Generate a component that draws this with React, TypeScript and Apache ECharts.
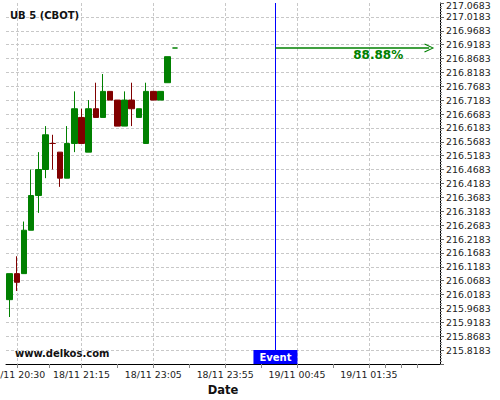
import React, { useEffect, useRef } from 'react';
import * as echarts from 'echarts';

// ---- data (UB futures quoted in 32nds) ----
const OPEN = [216.0, 216.09375, 216.09375, 216.25, 216.375, 216.46875, 216.5625, 216.53125, 216.4375, 216.5625, 216.65625, 216.53125, 216.6875, 216.65625, 216.75, 216.71875, 216.625, 216.71875, 216.65625, 216.5625, 216.75, 216.71875, 216.78125, 216.90625];
const CLOSE = [216.09375, 216.0625, 216.25, 216.375, 216.46875, 216.59375, 216.5625, 216.4375, 216.5625, 216.6875, 216.5625, 216.6875, 216.65625, 216.75, 216.71875, 216.625, 216.71875, 216.6875, 216.6875, 216.75, 216.71875, 216.75, 216.875, 216.90625];
const LOW = [215.9375, 216.03125, 216.09375, 216.25, 216.3125, 216.4375, 216.46875, 216.40625, 216.4375, 216.53125, 216.5625, 216.53125, 216.65625, 216.65625, 216.71875, 216.625, 216.625, 216.625, 216.65625, 216.5625, 216.71875, 216.71875, 216.78125, 216.90625];
const HIGH = [216.09375, 216.15625, 216.28125, 216.46875, 216.53125, 216.625, 216.59375, 216.53125, 216.625, 216.75, 216.6875, 216.71875, 216.78125, 216.8125, 216.75, 216.71875, 216.75, 216.78125, 216.6875, 216.78125, 216.75, 216.75, 216.875, 216.90625];

const X_LABEL_IDX = [1, 10, 20, 30, 40, 50];
const X_LABELS = ['18/11 20:30', '18/11 21:15', '18/11 23:05', '18/11 23:55', '19/11 00:45', '19/11 01:35'];
const X_TICK_IDX = [1, 5.5, 10, 15, 20, 25, 30, 35, 40, 45, 50, 52.25, 54.5, 56.75];
const X_MIN = -0.5;
const X_MAX = 59.9;

const Y_MIN = 215.7683;
const Y_MAX = 217.0683;
const Y_STEP = 0.05;

const EVENT_IDX = 37;
const ARROW_END_IDX = 58.4;
const PCT_IDX = 51.3;
const PCT_LABEL = '88.88%';
const EVENT_LABEL = 'Event';
const TITLE = 'UB 5 (CBOT)';
const SOURCE = 'www.delkos.com';
const X_NAME = 'Date';

const GREEN = '#008000';
const RED = '#800000';
const BLUE = '#0000ff';
const GRID = '#c8c8c8';
const FONT = 'DejaVu Sans';

export default function App() {
  const ref = useRef<HTMLDivElement>(null);

  useEffect(() => {
    document.body.style.margin = '0';
    if (!ref.current) return;
    const chart = echarts.init(ref.current, null, { renderer: 'svg' });

    const last = CLOSE[CLOSE.length - 1];
    const data = OPEN.map((o, i) => {
      const value = [i, o, CLOSE[i], LOW[i], HIGH[i]];
      if (o === CLOSE[i]) {
        const up = i === 0 || CLOSE[i - 1] <= CLOSE[i];
        const c = up ? GREEN : RED;
        return {
          value,
          itemStyle: { color: c, color0: c, borderColor: c, borderColor0: c, borderColorDoji: c },
        };
      }
      return value;
    });

    chart.setOption({
      animation: false,
      title: [
        {
          text: TITLE,
          left: 10,
          top: 10,
          padding: 0,
          textStyle: { fontFamily: FONT, fontSize: 10, fontWeight: 'bold', color: '#111' },
        },
        {
          text: SOURCE,
          left: 15,
          top: 348,
          padding: 0,
          textStyle: { fontFamily: FONT, fontSize: 10, fontWeight: 'bold', color: '#111' },
        },
      ],
      grid: { left: 6, right: 60, top: 3, bottom: 36, containLabel: false, outerBoundsMode: 'none' },
      xAxis: [
        {
          type: 'value',
          min: X_MIN,
          max: X_MAX,
          position: 'bottom',
          name: X_NAME,
          nameLocation: 'middle',
          nameGap: 19,
          nameTextStyle: { fontFamily: FONT, fontSize: 11.5, fontWeight: 'bold', color: '#111' },
          axisLine: { show: true, onZero: false, lineStyle: { color: '#000', width: 1 } },
          axisTick: { show: true, length: 4, customValues: X_TICK_IDX, lineStyle: { color: '#888' } },
          axisLabel: {
            customValues: X_LABEL_IDX,
            formatter: (v: number) => {
              const k = X_LABEL_IDX.findIndex((x) => Math.abs(x - v) < 1e-6);
              return k >= 0 ? X_LABELS[k] : '';
            },
            fontFamily: FONT,
            fontSize: 9.4,
            color: '#222',
            margin: 6,
            hideOverlap: false,
          },
          splitLine: { show: false },
        },
        {
          type: 'value',
          min: X_MIN,
          max: X_MAX,
          position: 'bottom',
          axisLine: { show: false, onZero: false },
          axisTick: { show: false, customValues: X_LABEL_IDX },
          axisLabel: { show: false },
          splitLine: { show: true, lineStyle: { color: GRID, type: [3, 2], width: 1 } },
        },
      ],
      yAxis: {
        type: 'value',
        position: 'right',
        min: Y_MIN,
        max: Y_MAX,
        interval: Y_STEP,
        axisLine: { show: true, onZero: false, lineStyle: { color: '#000', width: 1 } },
        axisTick: { show: true, length: 4, lineStyle: { color: '#666' } },
        minorTick: { show: true, splitNumber: 5, length: 2, lineStyle: { color: '#888' } },
        axisLabel: {
          fontFamily: FONT,
          fontSize: 9.4,
          color: '#222',
          margin: 6,
          showMinLabel: false,
          formatter: (v: number) =>
            Math.abs(v - Y_MAX) < 1e-6 ? `{top|${v.toFixed(4)}}` : v.toFixed(4),
          rich: { top: { fontFamily: FONT, fontSize: 9.4, color: '#222', padding: [4, 0, 0, 0] } },
        },
        splitLine: {
          show: true,
          showMinLine: false,
          showMaxLine: false,
          lineStyle: { color: GRID, type: [3, 2], width: 1 },
        },
      },
      series: [
        {
          type: 'candlestick',
          xAxisIndex: 0,
          yAxisIndex: 0,
          barWidth: 6,
          data,
          itemStyle: {
            color: GREEN,
            color0: RED,
            borderColor: GREEN,
            borderColor0: RED,
            borderWidth: 1,
          },
          markLine: {
            silent: true,
            animation: false,
            symbol: ['none', 'none'],
            label: { show: false },
            data: [
              { xAxis: EVENT_IDX, lineStyle: { color: BLUE, width: 1, type: 'solid' } },
              [
                { coord: [EVENT_IDX, last], symbol: 'none', lineStyle: { color: GREEN, width: 1.5, type: 'solid' } },
                {
                  coord: [ARROW_END_IDX, last],
                  symbol: 'path://M0,10 L5,0 L10,10 L8.8,10.6 L5,2.4 L1.2,10.6 Z',
                  symbolSize: [9, 10],
                },
              ],
            ],
          },
          markPoint: {
            silent: true,
            animation: false,
            data: [
              {
                coord: [EVENT_IDX, Y_MIN],
                symbol: 'rect',
                symbolSize: [44, 14],
                symbolOffset: [0, -7],
                itemStyle: { color: BLUE },
                label: {
                  show: true,
                  position: 'inside',
                  formatter: EVENT_LABEL,
                  color: '#fff',
                  fontFamily: FONT,
                  fontWeight: 'bold',
                  fontSize: 10,
                },
              },
              {
                coord: [PCT_IDX, last],
                symbol: 'rect',
                symbolSize: 1,
                itemStyle: { color: 'rgba(0,0,0,0)' },
                label: {
                  show: true,
                  position: 'inside',
                  offset: [0, 7],
                  formatter: PCT_LABEL,
                  color: GREEN,
                  fontFamily: FONT,
                  fontWeight: 'bold',
                  fontSize: 12,
                },
              },
            ],
          },
        },
      ],
    });

    return () => chart.dispose();
  }, []);

  return <div ref={ref} style={{ width: 500, height: 400 }} />;
}
